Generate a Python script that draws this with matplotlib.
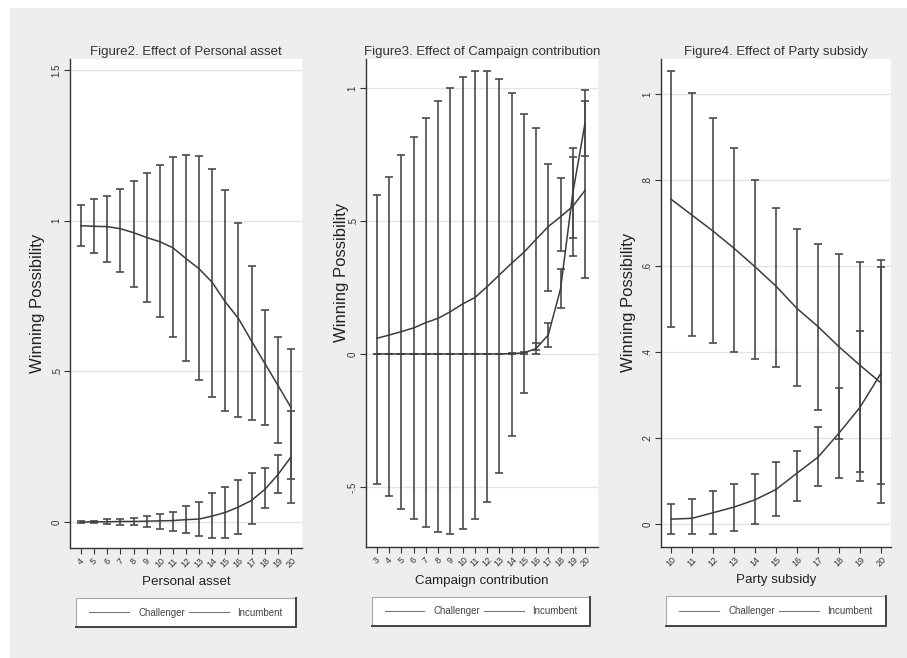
import matplotlib
matplotlib.use("Agg")
import matplotlib.pyplot as plt
from matplotlib.patches import Rectangle
from matplotlib.lines import Line2D
import numpy as np

plt.rcParams['font.family'] = ['Liberation Sans', 'DejaVu Sans']

# ---------------- Data ----------------
# Figure 2: Personal asset
asset_x = list(range(4, 21))
asset_chal_mean = [0.0, 0.001, 0.001, 0.002, 0.002, 0.003, 0.004, 0.005, 0.008, 0.01, 0.02, 0.032, 0.05, 0.072, 0.108, 0.157, 0.216]
asset_chal_lo = [-0.003, -0.004, -0.008, -0.009, -0.011, -0.017, -0.022, -0.031, -0.035, -0.046, -0.052, -0.052, -0.041, -0.006, 0.046, 0.097, 0.063]
asset_chal_hi = [0.003, 0.005, 0.009, 0.011, 0.013, 0.02, 0.028, 0.035, 0.053, 0.066, 0.096, 0.116, 0.14, 0.162, 0.18, 0.221, 0.37]
asset_inc_mean = [0.983, 0.981, 0.98, 0.973, 0.96, 0.944, 0.93, 0.91, 0.874, 0.84, 0.795, 0.73, 0.675, 0.6, 0.527, 0.454, 0.38]
asset_inc_lo = [0.917, 0.894, 0.861, 0.831, 0.781, 0.73, 0.68, 0.613, 0.533, 0.47, 0.414, 0.367, 0.348, 0.338, 0.321, 0.262, 0.142]
asset_inc_hi = [1.053, 1.07, 1.08, 1.106, 1.13, 1.159, 1.185, 1.21, 1.218, 1.213, 1.17, 1.10, 0.993, 0.85, 0.705, 0.613, 0.573]

# Figure 3: Campaign contribution
camp_x = list(range(3, 21))
camp_chal_mean = [0.059, 0.071, 0.084, 0.098, 0.118, 0.134, 0.159, 0.188, 0.212, 0.253, 0.297, 0.341, 0.382, 0.431, 0.479, 0.516, 0.555, 0.615]
camp_chal_lo = [-0.489, -0.536, -0.584, -0.622, -0.649, -0.669, -0.677, -0.659, -0.622, -0.555, -0.449, -0.307, -0.148, 0.014, 0.237, 0.387, 0.368, 0.287]
camp_chal_hi = [0.598, 0.667, 0.747, 0.817, 0.886, 0.952, 1.001, 1.043, 1.064, 1.063, 1.032, 0.982, 0.902, 0.848, 0.713, 0.663, 0.742, 0.952]
camp_inc_mean = [0.0, 0.0, 0.0, 0.0, 0.0, 0.0, 0.0, 0.0, 0.0, 0.0, 0.0, 0.001, 0.004, 0.02, 0.072, 0.245, 0.605, 0.868]
camp_inc_lo = [0.0, 0.0, 0.0, 0.0, 0.0, 0.0, 0.0, 0.0, 0.0, 0.0, 0.0, -0.001, -0.001, 0.0, 0.025, 0.171, 0.437, 0.744]
camp_inc_hi = [0.0, 0.0, 0.0, 0.0, 0.0, 0.0, 0.0, 0.0, 0.0, 0.0, 0.0, 0.003, 0.009, 0.04, 0.115, 0.318, 0.773, 0.992]

# Figure 4: Party subsidy
party_x = list(range(10, 21))
party_chal_mean = [0.012, 0.014, 0.027, 0.04, 0.057, 0.081, 0.119, 0.156, 0.212, 0.272, 0.351]
party_chal_lo = [-0.023, -0.023, -0.023, -0.015, 0.001, 0.019, 0.054, 0.089, 0.107, 0.1, 0.093]
party_chal_hi = [0.047, 0.059, 0.078, 0.094, 0.117, 0.146, 0.171, 0.226, 0.316, 0.45, 0.599]
party_inc_mean = [0.756, 0.719, 0.682, 0.642, 0.599, 0.554, 0.502, 0.46, 0.413, 0.37, 0.329]
party_inc_lo = [0.46, 0.439, 0.422, 0.401, 0.384, 0.365, 0.322, 0.266, 0.198, 0.122, 0.05]
party_inc_hi = [1.055, 1.002, 0.944, 0.874, 0.801, 0.736, 0.686, 0.651, 0.629, 0.611, 0.615]

titles = ["Figure2. Effect of Personal asset",
          "Figure3. Effect of Campaign contribution",
          "Figure4. Effect of Party subsidy"]
xlabels = ["Personal asset", "Campaign contribution", "Party subsidy"]
ylabel = "Winning Possibility"
legend_labels = ["Challenger", "Incumbent"]

y_ticks = [[0, 0.5, 1, 1.5], [-0.5, 0, 0.5, 1], [0, 0.2, 0.4, 0.6, 0.8, 1]]
y_ticklabels = [["0", ".5", "1", "1.5"], ["-.5", "0", ".5", "1"], ["0", ".2", ".4", ".6", ".8", "1"]]

# ---------------- Figure ----------------
W, H = 907, 658
fig = plt.figure(figsize=(W / 100, H / 100), dpi=100)
fig.patch.set_facecolor("white")
fig.patches.append(Rectangle((10 / W, 0), 1 - 10 / W, (H - 8) / H, transform=fig.transFigure,
                             facecolor="#eeeeee", edgecolor="none", zorder=-10))

def px_axes(l, r, t, b):
    return [l / W, (H - b) / H, (r - l) / W, (b - t) / H]

axes_pos = [px_axes(70, 302, 59, 548), px_axes(366, 598, 59, 547), px_axes(660.7, 891, 59, 546.7)]
xlims = [(3.16, 20.84), (2.1, 21.06), (9.51, 20.48)]
ylims = [(-0.086, 1.536), (-0.726, 1.109), (-0.052, 1.082)]
ylabel_x = [-0.108, -0.073, -0.107]
ylabel_y = [0.50, 0.5635, 0.50]
leg_box = [(0.026, 0.974), (0.026, 0.966), (0.023, 0.978)]

datasets = [
    (asset_x, asset_chal_mean, asset_chal_lo, asset_chal_hi, asset_inc_mean, asset_inc_lo, asset_inc_hi),
    (camp_x, camp_chal_mean, camp_chal_lo, camp_chal_hi, camp_inc_mean, camp_inc_lo, camp_inc_hi),
    (party_x, party_chal_mean, party_chal_lo, party_chal_hi, party_inc_mean, party_inc_lo, party_inc_hi),
]

line_col = "#3c3c3c"
err_col = "#4a4a4a"

for i, pos in enumerate(axes_pos):
    ax = fig.add_axes(pos)
    ax.set_facecolor("white")
    x, cm, clo, chi, im, ilo, ihi = datasets[i]
    x = np.array(x)
    for m, lo, hi, lab in [(cm, clo, chi, legend_labels[0]), (im, ilo, ihi, legend_labels[1])]:
        m = np.array(m); lo = np.array(lo); hi = np.array(hi)
        yerr = np.vstack([np.clip(m - lo, 0, None), np.clip(hi - m, 0, None)])
        ax.errorbar(x, m, yerr=yerr, fmt="none", ecolor=err_col, elinewidth=1.2,
                    capsize=3.2, capthick=1.2, zorder=3)
        ax.plot(x, m, color=line_col, lw=1.1, label=lab, zorder=4)

    ax.set_xlim(*xlims[i])
    ax.set_ylim(*ylims[i])
    ax.set_yticks(y_ticks[i])
    ax.set_yticklabels(y_ticklabels[i], rotation=90, va="center", fontsize=7, color="#333333")
    ax.set_xticks(x)
    ax.set_xticklabels([str(v) for v in x], rotation=45, ha="center", va="top",
                       fontsize=6.5, color="#333333")
    ax.grid(axis="y", color="#e4e4e4", lw=1.0, zorder=0)
    ax.set_axisbelow(True)
    for s in ["top", "right"]:
        ax.spines[s].set_visible(False)
    for s in ["left", "bottom"]:
        ax.spines[s].set_color("#333333")
        ax.spines[s].set_linewidth(1.0)
    ax.tick_params(axis="both", direction="out", length=4, width=0.8, color="#333333", pad=2)

    ax.set_title(titles[i], fontsize=9.5, color="#333333", pad=3)
    ax.set_xlabel(xlabels[i], fontsize=9.6, color="#222222")
    ax.xaxis.set_label_coords(0.5, -0.057)
    ax.xaxis.label.set_va("top")
    ax.set_ylabel(ylabel, fontsize=12, color="#222222")
    ax.yaxis.set_label_coords(ylabel_x[i], ylabel_y[i])

    # legend box (Stata style: light top/left edge, dark right/bottom edge)
    x0, x1 = leg_box[i]
    y0, y1 = -0.1625, -0.1015
    ax.add_patch(Rectangle((x0, y0), x1 - x0, y1 - y0, transform=ax.transAxes,
                           facecolor="white", edgecolor="#aaaaaa", lw=0.8, clip_on=False, zorder=5))
    ax.add_line(Line2D([x1, x1, x0], [y1, y0, y0], transform=ax.transAxes,
                       color="#444444", lw=1.4, clip_on=False, zorder=6))
    leg = ax.legend(loc="center", bbox_to_anchor=((x0 + x1) / 2, (y0 + y1) / 2),
                    ncol=2, fontsize=7, frameon=False, handlelength=4.1,
                    handletextpad=0.9, columnspacing=0.4, borderaxespad=0,
                    labelcolor="#444444")
    leg.set_zorder(7)
    for h in leg.get_lines():
        h.set_color("#777777")
        h.set_linewidth(0.8)

fig.savefig("out.png", dpi=100, facecolor=fig.get_facecolor())
